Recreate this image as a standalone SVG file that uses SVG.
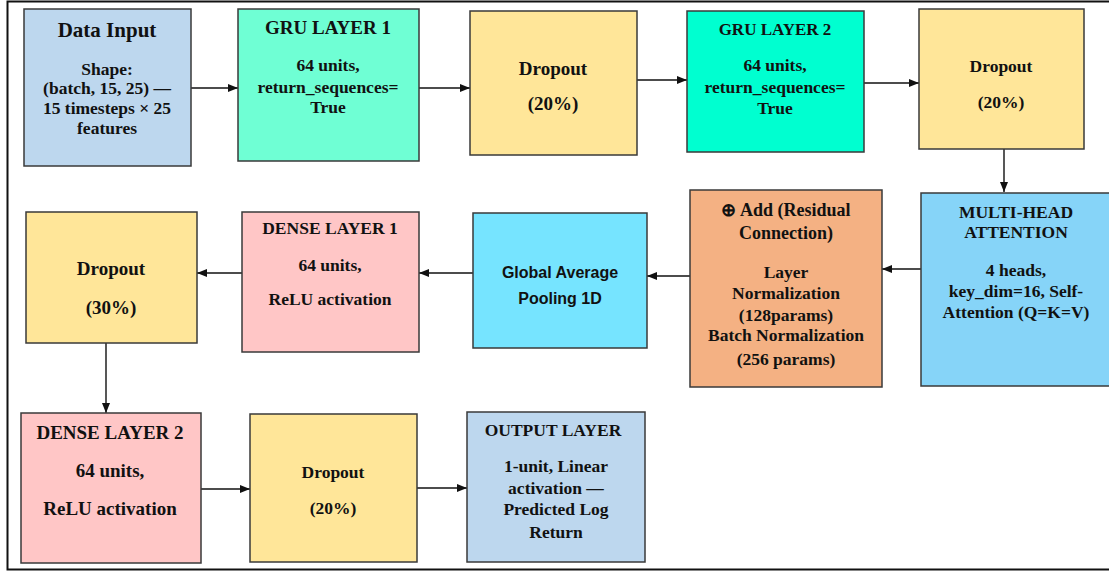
<svg xmlns="http://www.w3.org/2000/svg" width="1109" height="573" viewBox="0 0 1109 573">
<style>
.box{stroke:#3a3a3a;stroke-width:1.5}
text{font-family:"Liberation Serif","Times New Roman",serif;font-weight:bold;fill:#111;text-anchor:middle;font-size:17.5px}
.t21{font-size:21px}
.t19{font-size:19px}
.t18{font-size:18px}
.t17{font-size:17px}
.sans{font-family:"Liberation Sans",Arial,sans-serif;font-size:16px}
.c{stroke:#111;stroke-width:1.4;fill:none;marker-end:url(#ah)}
</style>
<defs>
<marker id="ah" markerUnits="userSpaceOnUse" markerWidth="10" markerHeight="10" viewBox="0 0 10 10" refX="10" refY="5" orient="auto">
<path d="M0,1 L10,5 L0,9 Z" fill="#111"/>
</marker>
</defs>
<rect x="7.5" y="1.5" width="1110" height="568" fill="#fff" stroke="#111" stroke-width="2"/>
<g id="connectors">
<line class="c" x1="191" y1="88" x2="238" y2="88"/>
<line class="c" x1="419" y1="88" x2="470" y2="88"/>
<line class="c" x1="637" y1="80" x2="687" y2="80"/>
<line class="c" x1="864" y1="83" x2="919" y2="83"/>
<line class="c" x1="1004" y1="149" x2="1004" y2="192"/>
<line class="c" x1="921" y1="269" x2="882" y2="269"/>
<line class="c" x1="690" y1="276" x2="647" y2="276"/>
<line class="c" x1="473" y1="273" x2="419" y2="273"/>
<line class="c" x1="242" y1="273" x2="197" y2="273"/>
<line class="c" x1="106" y1="343" x2="106" y2="413"/>
<line class="c" x1="201" y1="489" x2="250" y2="489"/>
<line class="c" x1="417" y1="488" x2="467" y2="488"/>
</g>
<g id="data-input">
<rect class="box" x="24" y="9" width="167" height="157" fill="#BDD7EE"/>
<text class="t21" x="107" y="37">Data Input</text>
<text x="107" y="75">Shape:</text>
<text x="107" y="94">(batch, 15, 25) —</text>
<text x="107" y="114">15 timesteps × 25</text>
<text x="107" y="134">features</text>
</g>
<g id="gru1">
<rect class="box" x="238" y="9" width="181" height="152" fill="#6FFFD4"/>
<text class="t19" x="328" y="33.5">GRU LAYER 1</text>
<text x="328" y="71">64 units,</text>
<text x="328" y="93">return_sequences=</text>
<text x="328" y="113">True</text>
</g>
<g id="dropout1">
<rect class="box" x="470" y="11" width="167" height="144" fill="#FFE699"/>
<text class="t19" x="553" y="74.5">Dropout</text>
<text class="t19" x="553" y="110">(20%)</text>
</g>
<g id="gru2">
<rect class="box" x="687" y="11" width="177" height="141" fill="#00FFD0"/>
<text class="t17" x="775" y="35">GRU LAYER 2</text>
<text x="775" y="71">64 units,</text>
<text x="775" y="93">return_sequences=</text>
<text x="775" y="114">True</text>
</g>
<g id="dropout2">
<rect class="box" x="919" y="9" width="165" height="140" fill="#FFE699"/>
<text x="1001" y="72">Dropout</text>
<text x="1001" y="108">(20%)</text>
</g>
<g id="mha">
<rect class="box" x="921" y="193" width="195" height="193" fill="#86D4F8"/>
<text x="1016" y="218">MULTI-HEAD</text>
<text x="1016" y="238">ATTENTION</text>
<text x="1016" y="276">4 heads,</text>
<text x="1016" y="297">key_dim=16, Self-</text>
<text x="1016" y="318">Attention (Q=K=V)</text>
</g>
<g id="add-norm">
<rect class="box" x="690" y="190" width="192" height="197" fill="#F4B183"/>
<text class="t18" x="786" y="215.5">⊕ Add (Residual</text>
<text class="t18" x="786" y="238.5">Connection)</text>
<text x="786" y="278">Layer</text>
<text x="786" y="299">Normalization</text>
<text x="786" y="321">(128params)</text>
<text x="786" y="341">Batch Normalization</text>
<text x="786" y="365">(256 params)</text>
</g>
<g id="gap">
<rect class="box" x="473" y="213" width="174" height="135" fill="#76E4FF"/>
<text class="sans" x="560" y="277.5">Global Average</text>
<text class="sans" x="560" y="303.5">Pooling 1D</text>
</g>
<g id="dense1">
<rect class="box" x="242" y="212" width="177" height="140" fill="#FFC6C6"/>
<text x="330" y="234">DENSE LAYER 1</text>
<text x="330" y="271">64 units,</text>
<text x="330" y="305">ReLU activation</text>
</g>
<g id="dropout3">
<rect class="box" x="26" y="212" width="171" height="131" fill="#FFE699"/>
<text class="t19" x="111" y="274.5">Dropout</text>
<text class="t19" x="111" y="313.5">(30%)</text>
</g>
<g id="dense2">
<rect class="box" x="21" y="413" width="180" height="150" fill="#FFC6C6"/>
<text class="t19" x="110" y="439">DENSE LAYER 2</text>
<text class="t19" x="110" y="477">64 units,</text>
<text class="t19" x="110" y="515">ReLU activation</text>
</g>
<g id="dropout4">
<rect class="box" x="250" y="414" width="167" height="148" fill="#FFE699"/>
<text x="333" y="478">Dropout</text>
<text x="333" y="514">(20%)</text>
</g>
<g id="output">
<rect class="box" x="467" y="412" width="178" height="150" fill="#BDD7EE"/>
<text x="553" y="436">OUTPUT LAYER</text>
<text x="556" y="472">1-unit, Linear</text>
<text x="556" y="494">activation —</text>
<text x="556" y="515">Predicted Log</text>
<text x="556" y="538">Return</text>
</g>
</svg>
